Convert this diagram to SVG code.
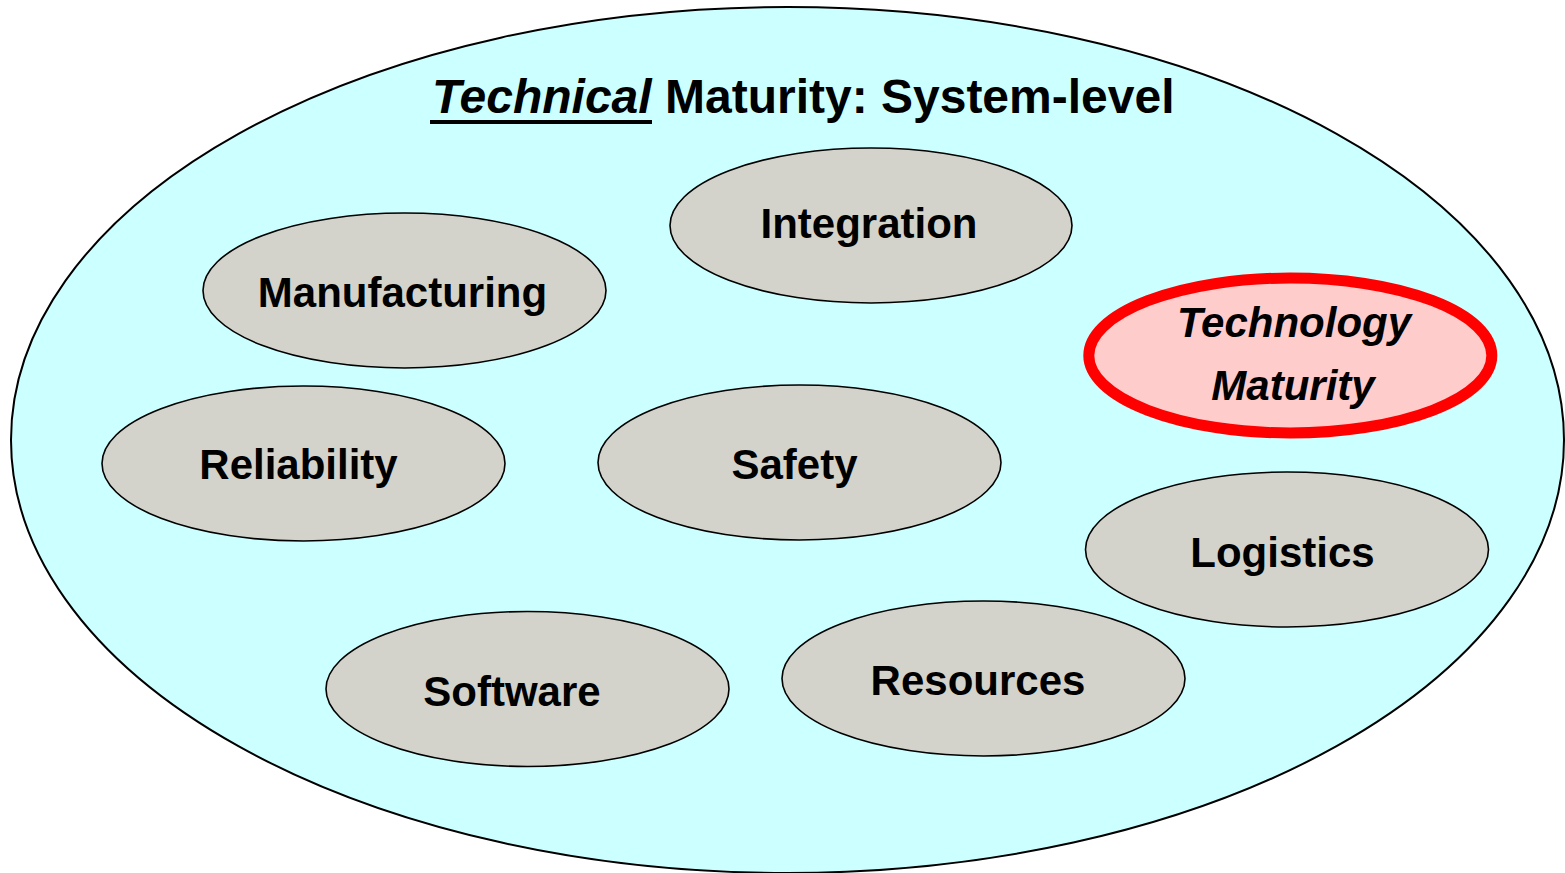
<svg xmlns="http://www.w3.org/2000/svg" width="1565" height="873" viewBox="0 0 1565 873">
<style>
.node{fill:#D3D3CB;stroke:#000;stroke-width:1.6}
.lbl{font-family:"Liberation Sans",Arial,sans-serif;font-weight:bold;font-size:42px;fill:#000;text-anchor:middle}
.title{font-family:"Liberation Sans",Arial,sans-serif;font-weight:bold;font-size:48px;fill:#000}
</style>
<rect width="1565" height="873" fill="#fff"/>
<g id="system">
<ellipse cx="787.5" cy="440" rx="776.5" ry="433" fill="#CCFFFF" stroke="#000" stroke-width="2"/>
<text class="title" x="432" y="113"><tspan font-style="italic">Technical</tspan> Maturity: System-level</text>
<rect x="430" y="120" width="222" height="4" fill="#000"/>
</g>
<g id="connectors"></g>
<g id="integration">
<ellipse class="node" cx="871" cy="225.5" rx="201" ry="77.5"/>
<text class="lbl" x="869" y="238">Integration</text>
</g>
<g id="manufacturing">
<ellipse class="node" cx="404.5" cy="290.5" rx="201.5" ry="77.5"/>
<text class="lbl" x="402.5" y="307">Manufacturing</text>
</g>
<g id="technology-maturity">
<ellipse cx="1290.3" cy="355.5" rx="201.5" ry="77.5" fill="#FFCCCC" stroke="#FF0000" stroke-width="11"/>
<text class="lbl" x="1294" y="337" font-style="italic">Technology</text>
<text class="lbl" x="1293" y="400" font-style="italic">Maturity</text>
</g>
<g id="reliability">
<ellipse class="node" cx="303.5" cy="463.5" rx="201.5" ry="77.5"/>
<text class="lbl" x="298.5" y="479">Reliability</text>
</g>
<g id="safety">
<ellipse class="node" cx="799.5" cy="462.5" rx="201.5" ry="77.5"/>
<text class="lbl" x="794.5" y="479">Safety</text>
</g>
<g id="logistics">
<ellipse class="node" cx="1287" cy="549.5" rx="201.5" ry="77.5"/>
<text class="lbl" x="1282.5" y="567">Logistics</text>
</g>
<g id="software">
<ellipse class="node" cx="527.5" cy="689" rx="201.5" ry="77.5"/>
<text class="lbl" x="512" y="706">Software</text>
</g>
<g id="resources">
<ellipse class="node" cx="983.5" cy="678.5" rx="201.5" ry="77.5"/>
<text class="lbl" x="978" y="695">Resources</text>
</g>
</svg>
